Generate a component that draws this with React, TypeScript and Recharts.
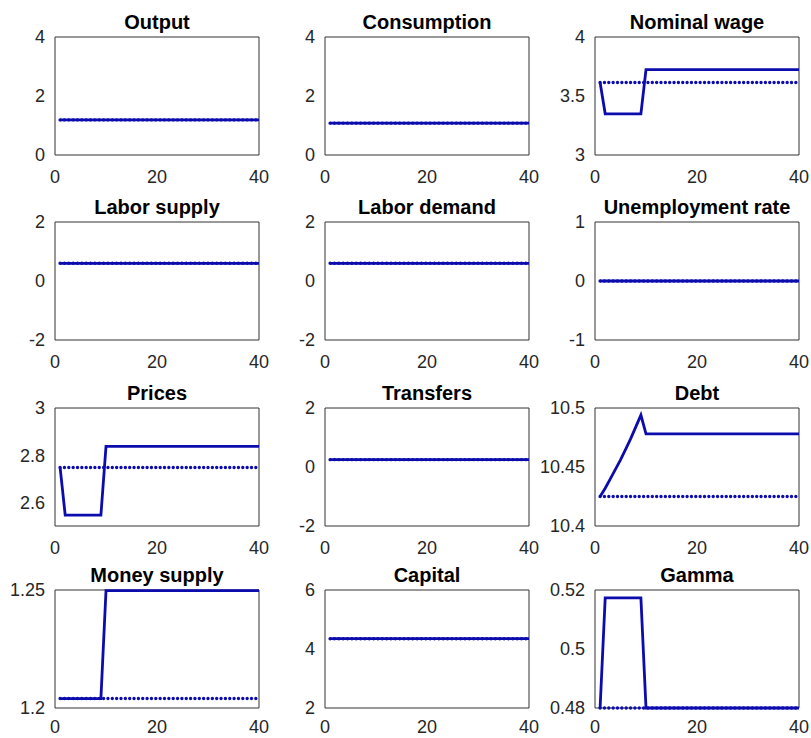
import React from 'react';
import { LineChart, Line, XAxis, YAxis, ReferenceArea } from 'recharts';

// periods 1..40 of the simulation
const periods = [
  1, 2, 3, 4, 5, 6, 7, 8, 9, 10,
  11, 12, 13, 14, 15, 16, 17, 18, 19, 20,
  21, 22, 23, 24, 25, 26, 27, 28, 29, 30,
  31, 32, 33, 34, 35, 36, 37, 38, 39, 40,
];
const xTicks = [0, 20, 40];

// solid line: simulated path, dotted line: steady state
const outputPath = [
  1.19, 1.19, 1.19, 1.19, 1.19, 1.19, 1.19, 1.19, 1.19, 1.19,
  1.19, 1.19, 1.19, 1.19, 1.19, 1.19, 1.19, 1.19, 1.19, 1.19,
  1.19, 1.19, 1.19, 1.19, 1.19, 1.19, 1.19, 1.19, 1.19, 1.19,
  1.19, 1.19, 1.19, 1.19, 1.19, 1.19, 1.19, 1.19, 1.19, 1.19,
];
const outputSteady = 1.19;

const consumptionPath = [
  1.08, 1.08, 1.08, 1.08, 1.08, 1.08, 1.08, 1.08, 1.08, 1.08,
  1.08, 1.08, 1.08, 1.08, 1.08, 1.08, 1.08, 1.08, 1.08, 1.08,
  1.08, 1.08, 1.08, 1.08, 1.08, 1.08, 1.08, 1.08, 1.08, 1.08,
  1.08, 1.08, 1.08, 1.08, 1.08, 1.08, 1.08, 1.08, 1.08, 1.08,
];
const consumptionSteady = 1.08;

const wagePath = [
  3.614, 3.349, 3.349, 3.349, 3.349, 3.349, 3.349, 3.349, 3.349, 3.723,
  3.723, 3.723, 3.723, 3.723, 3.723, 3.723, 3.723, 3.723, 3.723, 3.723,
  3.723, 3.723, 3.723, 3.723, 3.723, 3.723, 3.723, 3.723, 3.723, 3.723,
  3.723, 3.723, 3.723, 3.723, 3.723, 3.723, 3.723, 3.723, 3.723, 3.723,
];
const wageSteady = 3.614;

const laborSupplyPath = [
  0.6, 0.6, 0.6, 0.6, 0.6, 0.6, 0.6, 0.6, 0.6, 0.6,
  0.6, 0.6, 0.6, 0.6, 0.6, 0.6, 0.6, 0.6, 0.6, 0.6,
  0.6, 0.6, 0.6, 0.6, 0.6, 0.6, 0.6, 0.6, 0.6, 0.6,
  0.6, 0.6, 0.6, 0.6, 0.6, 0.6, 0.6, 0.6, 0.6, 0.6,
];
const laborSupplySteady = 0.6;

const laborDemandPath = [
  0.6, 0.6, 0.6, 0.6, 0.6, 0.6, 0.6, 0.6, 0.6, 0.6,
  0.6, 0.6, 0.6, 0.6, 0.6, 0.6, 0.6, 0.6, 0.6, 0.6,
  0.6, 0.6, 0.6, 0.6, 0.6, 0.6, 0.6, 0.6, 0.6, 0.6,
  0.6, 0.6, 0.6, 0.6, 0.6, 0.6, 0.6, 0.6, 0.6, 0.6,
];
const laborDemandSteady = 0.6;

const unemploymentPath = [
  0, 0, 0, 0, 0, 0, 0, 0, 0, 0,
  0, 0, 0, 0, 0, 0, 0, 0, 0, 0,
  0, 0, 0, 0, 0, 0, 0, 0, 0, 0,
  0, 0, 0, 0, 0, 0, 0, 0, 0, 0,
];
const unemploymentSteady = 0;

const pricesPath = [
  2.748, 2.546, 2.546, 2.546, 2.546, 2.546, 2.546, 2.546, 2.546, 2.837,
  2.837, 2.837, 2.837, 2.837, 2.837, 2.837, 2.837, 2.837, 2.837, 2.837,
  2.837, 2.837, 2.837, 2.837, 2.837, 2.837, 2.837, 2.837, 2.837, 2.837,
  2.837, 2.837, 2.837, 2.837, 2.837, 2.837, 2.837, 2.837, 2.837, 2.837,
];
const pricesSteady = 2.748;

const transfersPath = [
  0.25, 0.25, 0.25, 0.25, 0.25, 0.25, 0.25, 0.25, 0.25, 0.25,
  0.25, 0.25, 0.25, 0.25, 0.25, 0.25, 0.25, 0.25, 0.25, 0.25,
  0.25, 0.25, 0.25, 0.25, 0.25, 0.25, 0.25, 0.25, 0.25, 0.25,
  0.25, 0.25, 0.25, 0.25, 0.25, 0.25, 0.25, 0.25, 0.25, 0.25,
];
const transfersSteady = 0.25;

const debtPath = [
  10.425, 10.432, 10.44, 10.448, 10.456, 10.465, 10.474, 10.484, 10.494, 10.478,
  10.478, 10.478, 10.478, 10.478, 10.478, 10.478, 10.478, 10.478, 10.478, 10.478,
  10.478, 10.478, 10.478, 10.478, 10.478, 10.478, 10.478, 10.478, 10.478, 10.478,
  10.478, 10.478, 10.478, 10.478, 10.478, 10.478, 10.478, 10.478, 10.478, 10.478,
];
const debtSteady = 10.425;

const moneyPath = [
  1.204, 1.204, 1.204, 1.204, 1.204, 1.204, 1.204, 1.204, 1.204, 1.2497,
  1.2497, 1.2497, 1.2497, 1.2497, 1.2497, 1.2497, 1.2497, 1.2497, 1.2497, 1.2497,
  1.2497, 1.2497, 1.2497, 1.2497, 1.2497, 1.2497, 1.2497, 1.2497, 1.2497, 1.2497,
  1.2497, 1.2497, 1.2497, 1.2497, 1.2497, 1.2497, 1.2497, 1.2497, 1.2497, 1.2497,
];
const moneySteady = 1.204;

const capitalPath = [
  4.35, 4.35, 4.35, 4.35, 4.35, 4.35, 4.35, 4.35, 4.35, 4.35,
  4.35, 4.35, 4.35, 4.35, 4.35, 4.35, 4.35, 4.35, 4.35, 4.35,
  4.35, 4.35, 4.35, 4.35, 4.35, 4.35, 4.35, 4.35, 4.35, 4.35,
  4.35, 4.35, 4.35, 4.35, 4.35, 4.35, 4.35, 4.35, 4.35, 4.35,
];
const capitalSteady = 4.35;

const gammaPath = [
  0.48, 0.5173, 0.5173, 0.5173, 0.5173, 0.5173, 0.5173, 0.5173, 0.5173, 0.48,
  0.48, 0.48, 0.48, 0.48, 0.48, 0.48, 0.48, 0.48, 0.48, 0.48,
  0.48, 0.48, 0.48, 0.48, 0.48, 0.48, 0.48, 0.48, 0.48, 0.48,
  0.48, 0.48, 0.48, 0.48, 0.48, 0.48, 0.48, 0.48, 0.48, 0.48,
];
const gammaSteady = 0.48;

const panels = [
  { title: 'Output', path: outputPath, steady: outputSteady, domain: [0, 4], ticks: [0, 2, 4] },
  { title: 'Consumption', path: consumptionPath, steady: consumptionSteady, domain: [0, 4], ticks: [0, 2, 4] },
  { title: 'Nominal wage', path: wagePath, steady: wageSteady, domain: [3, 4], ticks: [3, 3.5, 4] },
  { title: 'Labor supply', path: laborSupplyPath, steady: laborSupplySteady, domain: [-2, 2], ticks: [-2, 0, 2] },
  { title: 'Labor demand', path: laborDemandPath, steady: laborDemandSteady, domain: [-2, 2], ticks: [-2, 0, 2] },
  { title: 'Unemployment rate', path: unemploymentPath, steady: unemploymentSteady, domain: [-1, 1], ticks: [-1, 0, 1] },
  { title: 'Prices', path: pricesPath, steady: pricesSteady, domain: [2.5, 3], ticks: [2.6, 2.8, 3] },
  { title: 'Transfers', path: transfersPath, steady: transfersSteady, domain: [-2, 2], ticks: [-2, 0, 2] },
  { title: 'Debt', path: debtPath, steady: debtSteady, domain: [10.4, 10.5], ticks: [10.4, 10.45, 10.5] },
  { title: 'Money supply', path: moneyPath, steady: moneySteady, domain: [1.2, 1.25], ticks: [1.2, 1.25] },
  { title: 'Capital', path: capitalPath, steady: capitalSteady, domain: [2, 6], ticks: [2, 4, 6] },
  { title: 'Gamma', path: gammaPath, steady: gammaSteady, domain: [0.48, 0.52], ticks: [0.48, 0.5, 0.52] },
];

const rowTops = [0, 185, 371, 553];
const colLefts = [0, 270, 540];
const BLUE = '#0c0cae';
const FONT = '"Liberation Sans", Arial, Helvetica, sans-serif';

function Panel({ panel, left, top, last }: { panel: any; left: number; top: number; last: boolean }) {
  const data = periods.map((t, i) => ({ t, path: panel.path[i], steady: panel.steady }));
  // the bottom row is kept inside the page
  const h = last ? 184 : 200;
  return (
    <div style={{ position: 'absolute', left, top, width: 270, height: h }}>
      <div
        style={{
          position: 'absolute', left: 55, top: 12, width: 204, textAlign: 'center',
          fontWeight: 'bold', fontSize: 20, lineHeight: '20px', color: '#000', zIndex: 2,
          whiteSpace: 'nowrap',
        }}
      >
        {panel.title}
      </div>
      <LineChart
        width={270}
        height={h}
        data={data}
        margin={{ top: 37, right: 11, bottom: last ? 0 : 15, left: 10 }}
        style={{ fontSize: 18 }}
      >
        <XAxis
          dataKey="t"
          type="number"
          domain={[0, 40]}
          ticks={xTicks}
          height={last ? 29 : 30}
          axisLine={false}
          tickLine={false}
          tickSize={0}
          tickMargin={last ? 12 : 15}
          tick={{ fontSize: 18, fill: '#262626' }}
        />
        <YAxis
          type="number"
          domain={panel.domain}
          ticks={panel.ticks}
          width={45}
          axisLine={false}
          tickLine={false}
          tickSize={0}
          tickMargin={10}
          tick={{ fontSize: 18, fill: '#262626' }}
        />
        <ReferenceArea
          x1={0}
          x2={40}
          y1={panel.domain[0]}
          y2={panel.domain[1]}
          fill="none"
          stroke="#333333"
          strokeWidth={1}
        />
        <Line
          dataKey="path"
          stroke={BLUE}
          strokeWidth={2.8}
          dot={false}
          isAnimationActive={false}
        />
        <Line
          dataKey="steady"
          stroke={BLUE}
          strokeWidth={3.4}
          strokeDasharray="0 4.35"
          strokeLinecap="round"
          dot={false}
          isAnimationActive={false}
        />
      </LineChart>
    </div>
  );
}

export default function App() {
  return (
    <div
      style={{
        position: 'absolute', left: 0, top: 0, width: 811, height: 738,
        background: '#fff', fontFamily: FONT, overflow: 'hidden',
      }}
    >
      {panels.map((p, i) => (
        <Panel
          key={p.title}
          panel={p}
          left={colLefts[i % 3]}
          top={rowTops[Math.floor(i / 3)]}
          last={i >= 9}
        />
      ))}
    </div>
  );
}
